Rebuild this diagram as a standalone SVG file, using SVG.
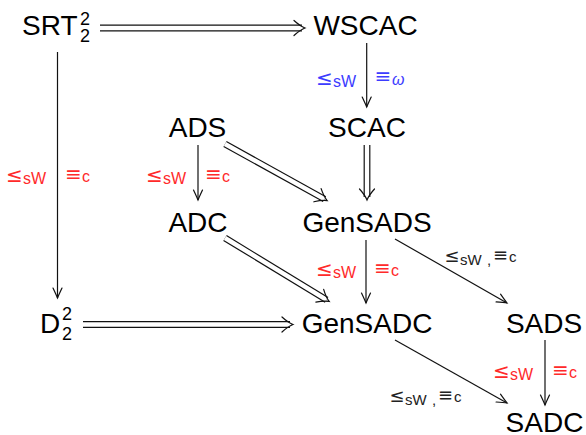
<svg xmlns="http://www.w3.org/2000/svg" width="586" height="435" viewBox="0 0 586 435">
<style>
  .node { font-family: "Liberation Sans", "DejaVu Sans", sans-serif; font-size: 28px; fill: #000; }
  .sc { font-family: "Liberation Sans", "DejaVu Sans", sans-serif; font-size: 18px; fill: #000; }
  .lbl { font-family: "Liberation Sans", "DejaVu Sans", sans-serif; }
  .sym { font-family: "DejaVu Sans", sans-serif; font-size: 20px; }
  .sub { font-size: 16px; }
  .bsym { font-family: "DejaVu Sans", sans-serif; font-size: 18px; }
  .bsub { font-size: 15px; }
  .red { fill: #ff2a2a; }
  .blue { fill: #3c3cff; }
  .blk { fill: #222; }
  .one { fill: none; stroke: #111; stroke-width: 1.2; marker-end: url(#ah); }
  .dout { fill: none; stroke: #111; stroke-width: 6.8; }
  .din { fill: none; stroke: #fff; stroke-width: 4.4; marker-end: url(#dh); }
</style>
<defs>
  <marker id="ah" markerUnits="userSpaceOnUse" orient="auto" refX="0" refY="0" markerWidth="24" markerHeight="24" viewBox="-12 -12 24 24" overflow="visible">
    <path d="M -10 -4.5 Q -3 -1.2 0 0 Q -3 1.2 -10 4.5" fill="none" stroke="#111" stroke-width="1.2" stroke-linecap="round"/>
  </marker>
  <marker id="dh" markerUnits="userSpaceOnUse" orient="auto" refX="0" refY="0" markerWidth="30" markerHeight="30" viewBox="-15 -15 30 30" overflow="visible">
    <path d="M -8 -7.5 Q -2 -2 3 0 Q -2 2 -8 7.5" fill="none" stroke="#111" stroke-width="1.2" stroke-linecap="round"/>
  </marker>
</defs>

<g id="connectors">
  <!-- single arrows -->
  <path class="one" d="M 366.7 43 L 366.7 107"/>
  <path class="one" d="M 57.5 52 L 57.5 298"/>
  <path class="one" d="M 198 145 L 198 200"/>
  <path class="one" d="M 366 240 L 366 303"/>
  <path class="one" d="M 395 239 L 507 303"/>
  <path class="one" d="M 545 340 L 545 405"/>
  <path class="one" d="M 395 340 L 507 403"/>
  <!-- double arrows -->
  <path class="dout" d="M 100 28 L 302 28"/>
  <path class="din" d="M 100 28 L 302 28"/>
  <path class="dout" d="M 83 324.5 L 290 324.5"/>
  <path class="din" d="M 83 324.5 L 290 324.5"/>
  <path class="dout" d="M 367 145 L 367 197"/>
  <path class="din" d="M 367 145 L 367 197"/>
  <path class="dout" d="M 225 144 L 324.5 199.1"/>
  <path class="din" d="M 225 144 L 324.5 199.1"/>
  <path class="dout" d="M 225 238 L 326.6 299.9"/>
  <path class="din" d="M 225 238 L 326.6 299.9"/>

  <!-- labels -->
  <text class="lbl blue"><tspan class="sym" x="316" y="85">≤</tspan><tspan class="sub" x="333" y="87">sW</tspan></text>
  <text class="lbl blue"><tspan class="sym" x="374.5" y="83">≡</tspan><tspan class="sub" x="392" y="85" font-style="italic" font-size="19">ω</tspan></text>

  <text class="lbl red"><tspan class="sym" x="6" y="182">≤</tspan><tspan class="sub" x="23" y="184">sW</tspan></text>
  <text class="lbl red"><tspan class="sym" x="65" y="181">≡</tspan><tspan class="sub" x="82" y="182">c</tspan></text>

  <text class="lbl red"><tspan class="sym" x="146" y="182">≤</tspan><tspan class="sub" x="163" y="184">sW</tspan></text>
  <text class="lbl red"><tspan class="sym" x="205" y="181">≡</tspan><tspan class="sub" x="222" y="182">c</tspan></text>

  <text class="lbl red"><tspan class="sym" x="316" y="276">≤</tspan><tspan class="sub" x="333" y="278">sW</tspan></text>
  <text class="lbl red"><tspan class="sym" x="374" y="275">≡</tspan><tspan class="sub" x="391" y="276">c</tspan></text>

  <text class="lbl red"><tspan class="sym" x="493" y="378">≤</tspan><tspan class="sub" x="510" y="380">sW</tspan></text>
  <text class="lbl red"><tspan class="sym" x="552" y="377">≡</tspan><tspan class="sub" x="569" y="378">c</tspan></text>

  <text class="lbl blk"><tspan class="bsym" x="444.5" y="262">≤</tspan><tspan class="bsub" x="460" y="265">sW</tspan><tspan class="bsub" x="487" y="265">,</tspan><tspan class="bsym" x="493" y="261">≡</tspan><tspan class="bsub" x="509" y="262">c</tspan></text>
  <text class="lbl blk"><tspan class="bsym" x="389.5" y="402">≤</tspan><tspan class="bsub" x="405" y="405">sW</tspan><tspan class="bsub" x="432" y="405">,</tspan><tspan class="bsym" x="438" y="401">≡</tspan><tspan class="bsub" x="454" y="402">c</tspan></text>
</g>

<g id="n-srt"><text class="node" x="22" y="35">SRT</text><text class="sc" x="80" y="25">2</text><text class="sc" x="80" y="42">2</text></g>
<g id="n-wscac"><text class="node" x="365.5" y="35" text-anchor="middle">WSCAC</text></g>
<g id="n-scac"><text class="node" x="367" y="137" text-anchor="middle">SCAC</text></g>
<g id="n-ads"><text class="node" x="197.5" y="137" text-anchor="middle">ADS</text></g>
<g id="n-adc"><text class="node" x="198" y="232" text-anchor="middle">ADC</text></g>
<g id="n-gensads"><text class="node" x="367" y="232" text-anchor="middle">GenSADS</text></g>
<g id="n-d"><text class="node" x="40" y="333">D</text><text class="sc" x="62" y="320">2</text><text class="sc" x="62" y="340">2</text></g>
<g id="n-gensadc"><text class="node" x="367" y="333" text-anchor="middle">GenSADC</text></g>
<g id="n-sads"><text class="node" x="544" y="333" text-anchor="middle">SADS</text></g>
<g id="n-sadc"><text class="node" x="544.5" y="432" text-anchor="middle">SADC</text></g>
</svg>
